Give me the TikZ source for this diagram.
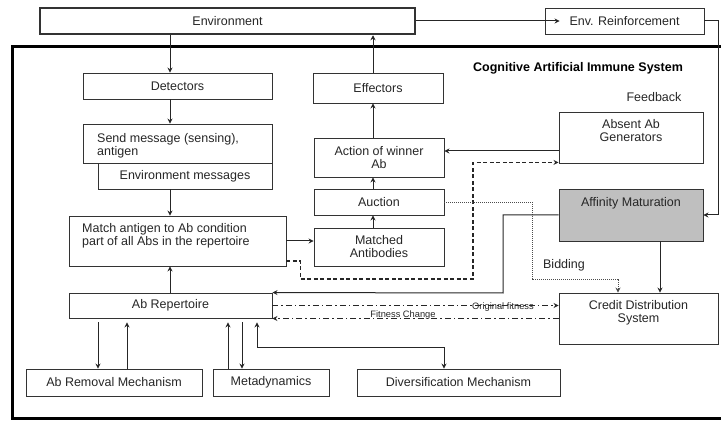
\documentclass[tikz,border=0pt]{standalone}
\usepackage{fontspec}
\setmainfont{Liberation Sans}
\usetikzlibrary{arrows.meta,calc}
\begin{document}
\begin{tikzpicture}[x=1pt,y=-1pt,
  txt/.style={inner sep=0pt, font=\fontsize{12.5}{13}\selectfont, text=black!85},
  box/.style={txt, draw=black!80, line width=0.9pt},
  small/.style={inner sep=0pt, font=\fontsize{9.3}{10}\selectfont, text=black!85},
  tip/.tip={Stealth[length=5pt,width=5pt]},
  link/.style={draw=black!85, line width=1pt},
  arr/.style={link, -tip},
  dashl/.style={line width=1.3pt, dash pattern=on 4pt off 2.5pt},
  dotl/.style={line width=0.9pt, draw=black!70, dash pattern=on 1pt off 1pt},
  dashdot/.style={dash pattern=on 6pt off 3pt on 1.5pt off 3pt}]

\useasboundingbox (0,0) rectangle (721,422);

% outer frame of the immune system
\draw[line width=3pt] (12,47) rectangle (740,418);
\node[font=\bfseries\fontsize{12.5}{13}\selectfont, inner sep=0pt] (title) at (578,68) {Cognitive Artificial Immune System};

% environment
\node[box, line width=2.5pt, minimum width=375pt, minimum height=26pt] (env) at (227.5,21) {Environment};
\node[box, minimum width=159pt, minimum height=26pt] (envr) at (624.5,21) {Env. Reinforcement};

% left column (two-line texts are placed by the baseline of their last line)
\node[box, minimum width=189pt, minimum height=26pt] (det) at (177.5,86) {Detectors};
\node[box, minimum width=189pt, minimum height=39pt] (send) at (177.5,143.5) {};
\node[txt, anchor=base west, align=left] (sendtxt) at (97,155.5) {Send message (sensing),\\antigen};
\node[box, minimum width=174pt, minimum height=26pt] (envmsg) at (185,176) {Environment messages};
\node[box, minimum width=217pt, minimum height=50pt] (match) at (177.5,241) {};
\node[txt, anchor=base west, align=left] (matchtxt) at (82,245.5) {Match antigen to Ab condition\\part of all Abs in the repertoire};
\node[box, minimum width=203pt, minimum height=25pt] (rep) at (170.5,305.5) {Ab Repertoire};

% middle column
\node[box, minimum width=130pt, minimum height=30pt] (eff) at (378,88) {Effectors};
\node[box, minimum width=130pt, minimum height=39pt, align=center] (action) at (379,157.5) {Action of winner\\Ab};
\node[box, minimum width=130pt, minimum height=26pt] (auction) at (379,202) {Auction};
\node[box, minimum width=130pt, minimum height=38pt, align=center] (matched) at (379,247) {Matched\\Antibodies};

% right column
\node[txt] (fbtxt) at (654,97) {Feedback};
\node[box, minimum width=144pt, minimum height=51pt] (absent) at (631,137.5) {};
\node[txt, anchor=base, align=center] (absenttxt) at (631,141.5) {Absent Ab\\Generators};
\node[box, fill=black!25, minimum width=144pt, minimum height=52pt] (affinity) at (631,215) {};
\node[txt, anchor=base] (affinitytxt) at (631,206.5) {Affinity Maturation};
\node[txt] (bidtxt) at (564,265) {Bidding};
\node[box, minimum width=159pt, minimum height=51pt] (cds) at (638.5,318.5) {};
\node[txt, anchor=base, align=center] (cdstxt) at (638.5,322.5) {Credit Distribution\\System};

% bottom row
\node[box, minimum width=176pt, minimum height=27pt] (removal) at (114,382.5) {Ab Removal Mechanism};
\node[box, minimum width=116pt, minimum height=27pt] (meta) at (271,382.5) {Metadynamics};
\node[box, minimum width=203pt, minimum height=27pt] (div) at (458.5,382.5) {Diversification Mechanism};

% connector columns and bends
\coordinate (colA) at (170,0);
\coordinate (colB) at (373,0);
\coordinate (acol) at (660,0);
\coordinate (dcol) at (618,0);
\coordinate (fb) at (718,21);
\coordinate (am) at (503,293);
\coordinate (bd) at (532,279);
\coordinate (dd) at (473,279);
\coordinate (c1) at (98,0);
\coordinate (c2) at (127,0);
\coordinate (c3) at (228,0);
\coordinate (c4) at (242,0);
\coordinate (c5) at (257,348);
\coordinate (c6) at (444,0);

% sensing path
\draw[arr] (env.south -| colA) -- (det.north -| colA);
\draw[arr] (det.south -| colA) -- (send.north -| colA);
\draw[arr] (envmsg.south -| colA) -- (match.north -| colA);
\draw[arr] (rep.north -| colA) -- (match.south -| colA);
\draw[arr] (match.east) -- (match.east -| matched.west);

% action path
\draw[arr] (matched.north -| colB) -- (auction.south -| colB);
\draw[arr] (auction.north -| colB) -- (action.south -| colB);
\draw[arr] (action.north -| colB) -- (eff.south -| colB);
\draw[arr] (eff.north -| colB) -- (env.south -| colB);

% reinforcement and feedback
\draw[arr] (env.east) -- ([xshift=15pt]envr.west);
\draw[arr] (envr.east) -- (fb) |- (affinity.east);
\draw[arr] ([yshift=-13.5pt]absent.west) -- ([yshift=-13.5pt]absent.west -| action.east);
\draw[arr, dashl] ([yshift=-20pt]match.east) -- ++(14pt,0) |- (dd) |- ([yshift=1pt]absent.south west);
\draw[arr, dotl] (auction.east) -| (bd) -| (cds.north -| dcol);
\draw[arr] (affinity.west) -| (am) -- (rep.north east);
\draw[arr] (affinity.south -| acol) -- (cds.north -| acol);

% fitness exchange
\draw[arr, dashdot] (rep.east) -- (rep.east -| cds.west);
\draw[arr, dashdot] (cds.west) -- (cds.west -| rep.east);
\node[small] (ofit) at (503,307.5) {Original fitness};
\node[small] (fchg) at (403,315.5) {Fitness Change};

% repertoire maintenance
\draw[arr, shorten <=4pt] (rep.south -| c1) -- (removal.north -| c1);
\draw[arr, shorten >=4pt] (removal.north -| c2) -- (rep.south -| c2);
\draw[arr, shorten >=4pt] (meta.north -| c3) -- (rep.south -| c3);
\draw[arr, shorten <=4pt] (rep.south -| c4) -- (meta.north -| c4);
\draw[link, tip-tip, shorten >=4pt] (div.north -| c6) |- (c5) -- (rep.south -| c5);
\end{tikzpicture}
\end{document}
